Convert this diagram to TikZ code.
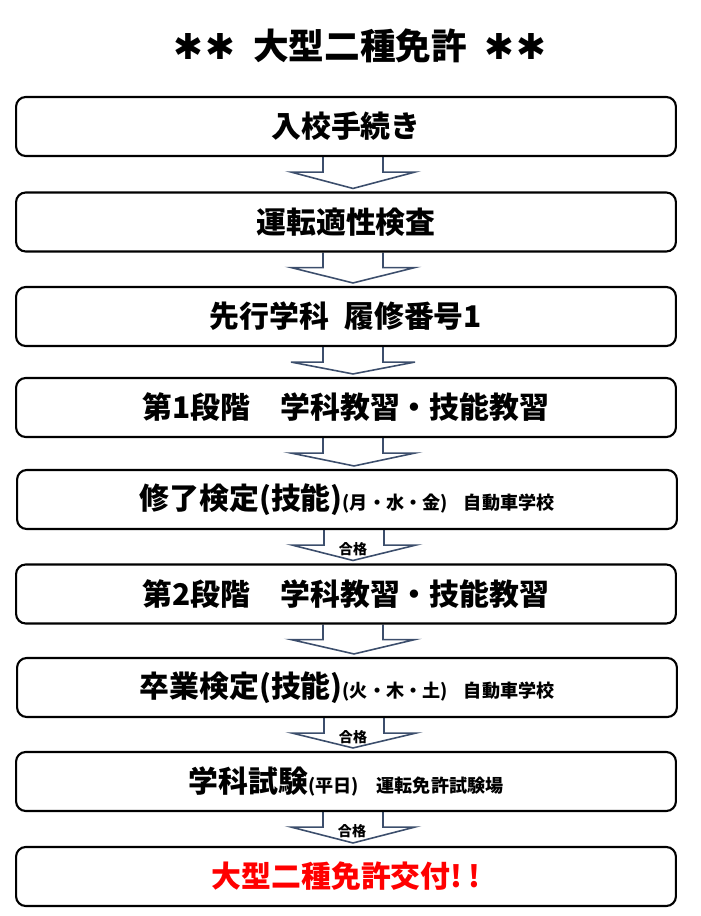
\documentclass[tikz,border=0pt]{standalone}
\usepackage{fontspec}
\setmainfont{Noto Sans CJK JP}
\newfontfamily\symfont{DejaVu Sans}
\usetikzlibrary{calc,backgrounds}

\definecolor{arrowblue}{HTML}{3C4E6C}
\definecolor{kofured}{HTML}{FF0000}
\tikzset{
  stepbox/.style={rectangle, draw, rounded corners=5.5pt, line width=1.2pt,
    minimum width=13.2cm, minimum height=1.18cm, inner sep=0pt,
    font=\bfseries\fontsize{17}{20}\selectfont},
  flowarrow/.style={draw=arrowblue, fill=white, line width=0.9pt},
  passlabel/.style={font=\bfseries\fontsize{8}{10}\selectfont, inner sep=0pt}
}
\newcommand{\piccolo}{\fontsize{10.3}{12}\selectfont}
\newcommand{\stella}{{\symfont\bfseries ✱}}

\begin{document}
\begin{tikzpicture}[x=0.02cm, y=-0.02cm]
\useasboundingbox (0,0) rectangle (700,916);

\node[font=\bfseries\fontsize{20.3}{24}\selectfont] (title) at (360,46)
  {\stella\hspace{0.05em}\stella\hspace{0.5em}大型二種免許\hspace{0.5em}\stella\hspace{0.05em}\stella};

\node[stepbox] (nyuko) at (346,126.5) {入校手続き};
\node[stepbox] (tekisei) at (346,222) {運転適性検査};
\node[stepbox] (senko) at (346,316.5) {先行学科\hspace{0.5em}履修番号1};
\node[stepbox] (dan1) at (346,407.5) {第1段階　学科教習・技能教習};
\node[stepbox] (shuryo) at (347,499.5) {修了検定(技能){\piccolo (月・水・金)\hspace{0.9em}自動車学校}};
\node[stepbox] (dan2) at (346,594) {第2段階　学科教習・技能教習};
\node[stepbox] (sotsu) at (347,687.5) {卒業検定(技能){\piccolo (火・木・土)\hspace{0.9em}自動車学校}};
\node[stepbox] (gakka) at (346,781.5) {学科試験{\piccolo (平日)　運転免許試験場}};
\node[stepbox, text=kofured] (kofu) at (346,876.5) {大型二種免許交付!\hspace{0.2em}!};

\begin{scope}[on background layer]
\foreach \f/\t in {nyuko/tekisei, tekisei/senko, senko/dan1, dan1/shuryo,
                   shuryo/dan2, dan2/sotsu, sotsu/gakka, gakka/kofu}{
  \draw[flowarrow] ($(\f.south)+(-23,0)$) -- ($(\f.south)+(-23,15)$)
    -- ($(\f.south)+(-55,15)$) -- ($(\t.north)+(7,-3)$)
    -- ($(\f.south)+(69,15)$) -- ($(\f.south)+(37,15)$) -- ($(\f.south)+(37,0)$);
}
\end{scope}

\foreach \f/\n in {shuryo/pass1, sotsu/pass2, gakka/pass3}
  \node[passlabel] (\n) at ($(\f.south)+(6,19)$) {合格};
\end{tikzpicture}
\end{document}
